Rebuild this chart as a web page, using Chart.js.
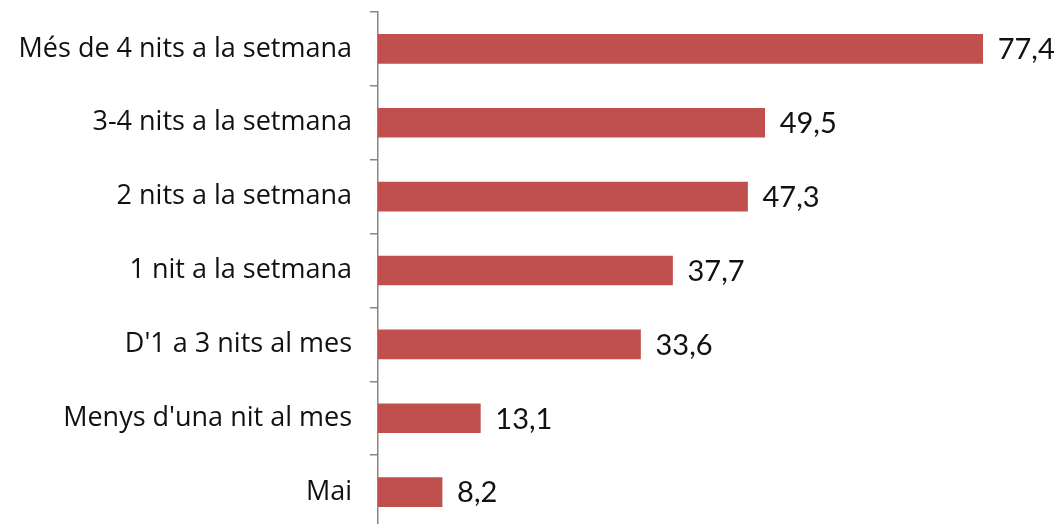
<!DOCTYPE html>
<html><head><meta charset="utf-8">
<script src="https://cdn.jsdelivr.net/npm/chart.js@4"></script>
<style>html,body{margin:0;padding:0;background:#fff;overflow:hidden;width:1057px;height:524px}#wrap{width:1057px;height:530px;position:relative}</style>
</head><body>
<div id="wrap"><canvas id="c"></canvas></div>
<script>
const categories = ["Més de 4 nits a la setmana","3-4 nits a la setmana","2 nits a la setmana","1 nit a la setmana","D'1 a 3 nits al mes","Menys d'una nit al mes","Mai"];
const values = [77.4,49.5,47.3,37.7,33.6,13.1,8.2];
const LABEL_FONT = "'Open Sans', Lato, sans-serif";
const VALUE_FONT = "Lato, 'Open Sans', sans-serif";

const valueLabels = {
  id:'valueLabels',
  afterDatasetsDraw(chart){
    const ctx = chart.ctx;
    const meta = chart.getDatasetMeta(0);
    ctx.save();
    ctx.font = "29px " + VALUE_FONT;
    ctx.fillStyle = "#111";
    ctx.textAlign = "left";
    ctx.textBaseline = "middle";
    meta.data.forEach((bar,i)=>{
      ctx.fillText(values[i].toFixed(1).replace('.',','), bar.x + 15, bar.y + 1);
    });
    ctx.restore();
  }
};

new Chart(document.getElementById('c'),{
  type:'bar',
  data:{labels:categories,datasets:[{data:values,backgroundColor:'#C0504D',barThickness:29}]},
  options:{
    indexAxis:'y',
    responsive:true,maintainAspectRatio:false,animation:false,
    layout:{padding:{top:12,bottom:1,left:0,right:54}},
    plugins:{legend:{display:false},tooltip:{enabled:false}},
    scales:{
      x:{display:false,min:0,max:80},
      y:{
        afterFit(s){s.width=378;s.paddingTop=0;s.paddingBottom=0;},
        grid:{drawOnChartArea:false,tickLength:8,color:'#868686',lineWidth:1.5},
        border:{color:'#868686',width:1.5},
        ticks:{padding:18,color:'#111',font:{family:LABEL_FONT,size:27}}
      }
    }
  },
  plugins:[valueLabels]
});
</script>
</body></html>
